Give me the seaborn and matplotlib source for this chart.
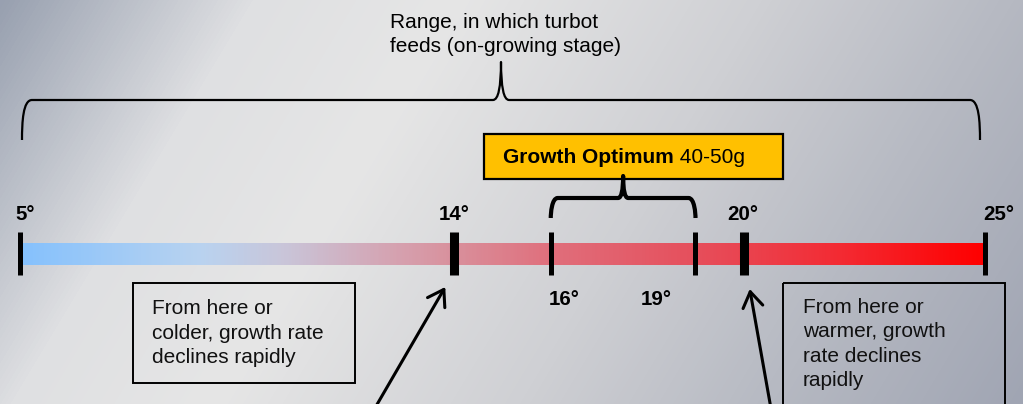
import numpy as np
import matplotlib
matplotlib.use("Agg")
import matplotlib.pyplot as plt
import seaborn as sns
from matplotlib.path import Path
from matplotlib.patches import PathPatch, Rectangle
from matplotlib.colors import LinearSegmentedColormap

# ---------------- data ----------------
feeding_range = [5, 25]
tick_temps = [5, 14, 16, 19, 20, 25]
tick_labels = ["5°", "14°", "16°", "19°", "20°", "25°"]
tick_thick = [False, True, False, False, True, False]
optimum_range = [16, 19]
critical_low, critical_high = 14, 20
top_note = "Range, in which turbot\nfeeds (on-growing stage)"
optimum_title = "Growth Optimum"
optimum_weight = "40-50g"
cold_note = "From here or\ncolder, growth rate\ndeclines rapidly"
warm_note = "From here or\nwarmer, growth\nrate declines\nrapidly"
bar_stops = [5, 8.7, 10.4, 12.9, 14, 16, 19, 20, 22.2, 25]
bar_colors = ["#85c1fd", "#b9d3f0", "#c9c6da", "#d6a0ae", "#d9909c",
              "#e06f7c", "#e64f5c", "#ea4450", "#f42830", "#ff0000"]

# ---------------- style / layout ----------------
sns.set_theme(style="white")
plt.rcParams["font.family"] = ["Liberation Sans", "DejaVu Sans"]

W, H = 1023, 404
PPD = 48.25                      # pixels per degree
x0 = feeding_range[0] - 20 / PPD
x1 = x0 + W / PPD
FS = 15
LS = 1.36


def px(v):
    return x0 + v / PPD


def dx(v):
    return v / PPD


fig = plt.figure(figsize=(W / 100, H / 100), dpi=100)
ax = fig.add_axes([0, 0, 1, 1])
ax.set_xlim(x0, x1)
ax.set_ylim(H, 0)
ax.axis("off")

# background gradient
bg_cmap = LinearSegmentedColormap.from_list(
    "bg", [(0.0, "#98a0b0"), (0.2, "#dfe0e2"), (0.36, "#e6e6e6"),
           (0.6, "#cfd0d4"), (0.8, "#b6b9c2"), (1.0, "#a0a5b3")])
yy, xx = np.mgrid[0:H, 0:W]
t = (xx + 0.6 * yy) / (W + 0.6 * H)
ax.imshow(bg_cmap(t), extent=(x0, x1, H, 0), aspect="auto", zorder=0,
          interpolation="bilinear")

# temperature bar
lo, hi = feeding_range
bar_cmap = LinearSegmentedColormap.from_list(
    "temp", [((s - lo) / (hi - lo), c) for s, c in zip(bar_stops, bar_colors)])
grad = np.linspace(lo, hi, 600).reshape(1, -1)
ax.imshow(grad, cmap=bar_cmap, vmin=lo, vmax=hi, extent=(lo, hi, 265, 243),
          aspect="auto", zorder=1, interpolation="bilinear")

# ticks
ax.vlines(tick_temps, 232, 275, colors="black",
          linewidths=[6.5 if th else 3.6 for th in tick_thick], zorder=3)

# tick labels
label_pos = {5: (5, 220), 14: (0, 220), 16: (13, 305), 19: (-39, 305),
             20: (-1, 220), 25: (14, 220)}
for tv, lab in zip(tick_temps, tick_labels):
    ox, yv = label_pos[tv]
    ax.text(tv + dx(ox), yv, lab, ha="center", va="baseline",
            fontsize=14.8, fontweight="bold", color="black", zorder=4)


def brace(xl, xr, y_end, y_bar, y_tip, r, cusp, lw):
    cx = (xl + xr) / 2
    verts = [
        (xl, y_end),
        (xl, y_bar + r * 2.2), (xl + dx(1), y_bar), (xl + dx(r), y_bar),
        (cx - dx(cusp), y_bar),
        (cx, y_bar), (cx, y_tip),
        (cx, y_bar), (cx + dx(cusp), y_bar),
        (xr - dx(r), y_bar),
        (xr - dx(1), y_bar), (xr, y_bar + r * 2.2), (xr, y_end),
    ]
    codes = [Path.MOVETO,
             Path.CURVE4, Path.CURVE4, Path.CURVE4,
             Path.LINETO,
             Path.CURVE3, Path.CURVE3,
             Path.CURVE3, Path.CURVE3,
             Path.LINETO,
             Path.CURVE4, Path.CURVE4, Path.CURVE4]
    ax.add_patch(PathPatch(Path(verts, codes), fill=False, lw=lw,
                           edgecolor="black", capstyle="butt",
                           joinstyle="round", zorder=5))


# big brace over the feeding range
brace(feeding_range[0] + dx(2), feeding_range[1] - dx(5), 140, 100, 62,
      10, 8, 1.6)
# multi-line texts: y is the baseline of the last line
ax.text(px(390), 52, top_note, ha="left", va="baseline", fontsize=FS,
        linespacing=LS, color="black", zorder=5)

# optimum box
ax.add_patch(Rectangle((px(484), 134), dx(299), 45, facecolor="#ffc000",
                       edgecolor="black", lw=1.6, zorder=4))
t1 = ax.text(px(503), 163, optimum_title, ha="left", va="baseline",
             fontsize=FS, fontweight="bold", color="black", zorder=6)
ax.annotate(" " + optimum_weight, xy=(1, 0), xycoords=t1, ha="left",
            va="bottom", fontsize=FS, color="black", zorder=6)

# optimum brace
brace(optimum_range[0], optimum_range[1], 218, 198, 176, 7, 5, 3.0)

# note boxes
ax.add_patch(Rectangle((px(133), 283), dx(222), 100, facecolor="none",
                       edgecolor="black", lw=1.4, zorder=4))
ax.text(px(152), 363, cold_note, ha="left", va="baseline", fontsize=FS,
        linespacing=LS, color="#111111", zorder=5)
ax.add_patch(Rectangle((px(783), 283), dx(222), 140, facecolor="none",
                       edgecolor="black", lw=1.4, zorder=4))
ax.text(px(803), 386, warm_note, ha="left", va="baseline", fontsize=FS,
        linespacing=LS, color="#111111", zorder=5)

# arrows
astyle = dict(arrowstyle="->,head_length=0.55,head_width=0.36", lw=2.2,
              color="black", mutation_scale=20, shrinkA=0, shrinkB=0)
ax.annotate("", xy=(critical_low - dx(9), 287), xytext=(px(368), 420),
            arrowprops=astyle, annotation_clip=False, zorder=6)
ax.annotate("", xy=(critical_high + dx(6), 289), xytext=(px(773), 420),
            arrowprops=astyle, annotation_clip=False, zorder=6)

fig.savefig("out.png", dpi=100)
